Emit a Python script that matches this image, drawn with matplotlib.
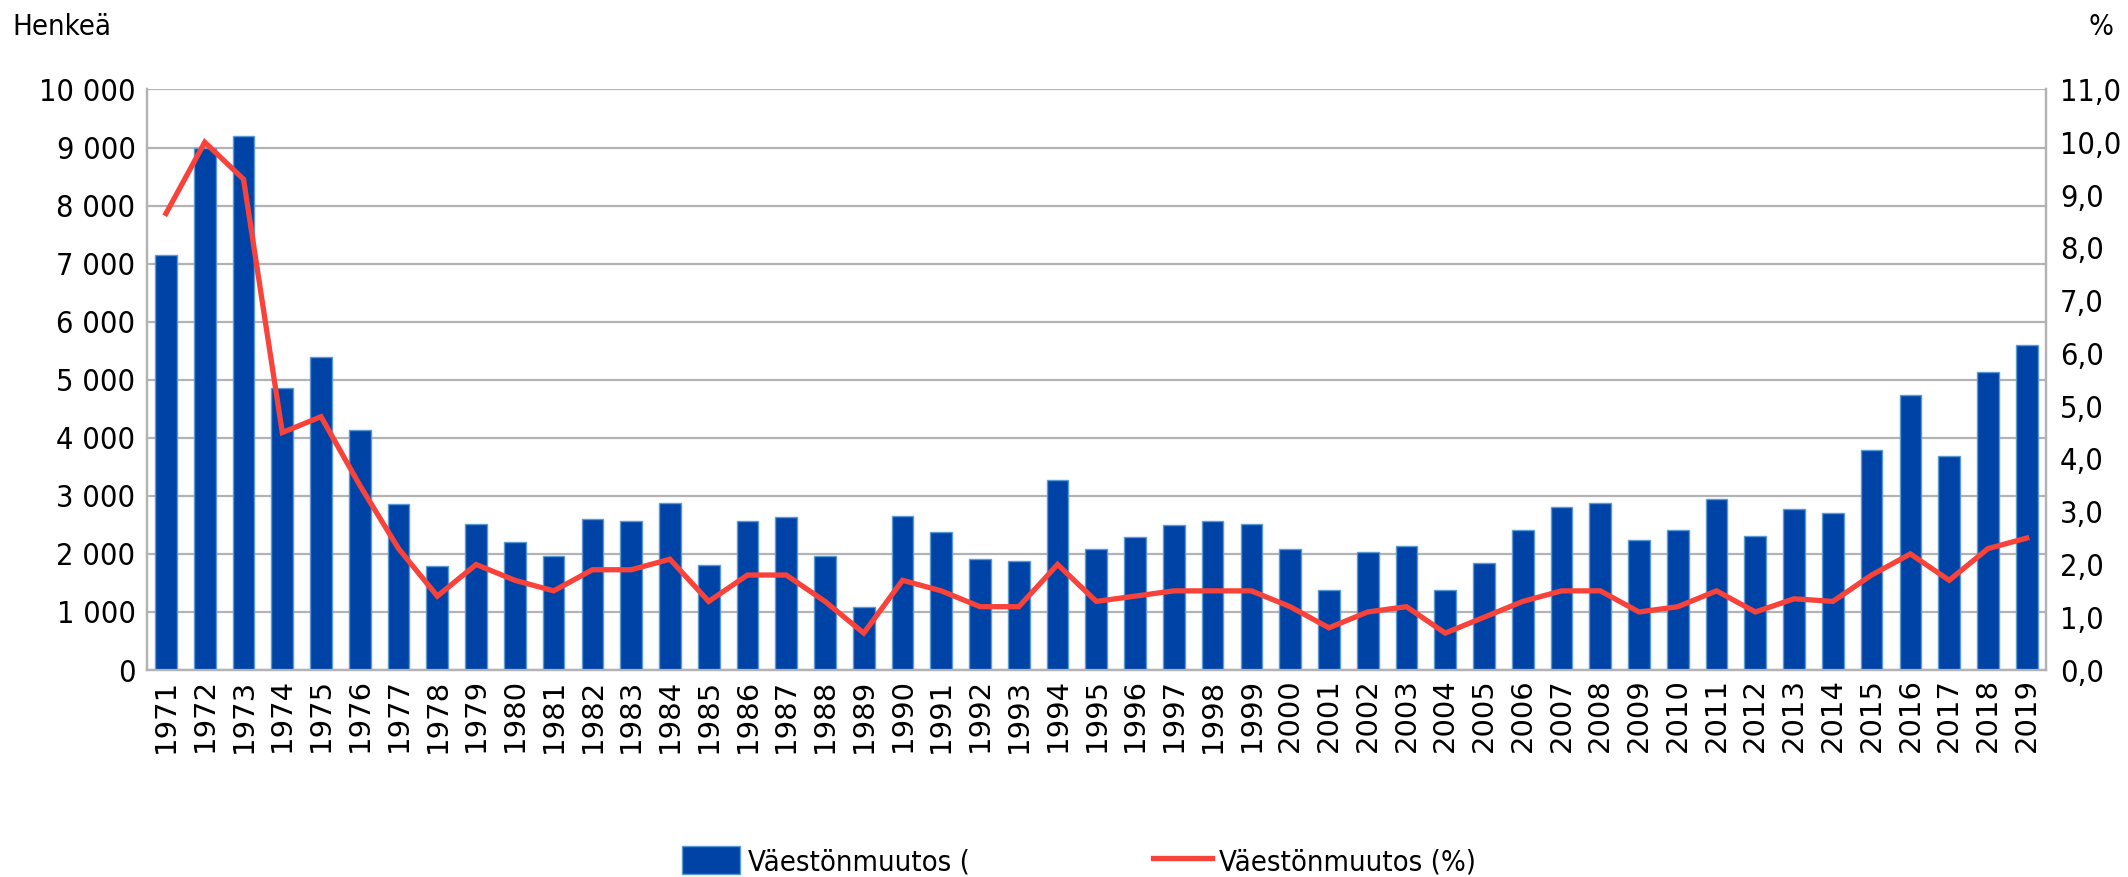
import matplotlib
matplotlib.use("Agg")
import matplotlib.pyplot as plt
from matplotlib.ticker import FuncFormatter, MultipleLocator
from matplotlib.patches import Patch
from matplotlib.lines import Line2D
from matplotlib.font_manager import FontProperties, fontManager

years = list(range(1971, 2020))
change_persons = [7140, 8990, 9190, 4860, 5400, 4130, 2860, 1800, 2520, 2210,
                  1960, 2600, 2575, 2870, 1810, 2560, 2630, 1970, 1080, 2650,
                  2370, 1910, 1870, 3265, 2090, 2290, 2505, 2560, 2520, 2080,
                  1375, 2025, 2140, 1380, 1840, 2420, 2800, 2870, 2235, 2410,
                  2940, 2300, 2775, 2700, 3790, 4730, 3685, 5125, 5600]
change_pct = [8.65, 10.0, 9.3, 4.5, 4.8, 3.5, 2.3, 1.4, 2.0, 1.7,
              1.5, 1.9, 1.9, 2.1, 1.3, 1.8, 1.8, 1.3, 0.7, 1.7,
              1.5, 1.2, 1.2, 2.0, 1.3, 1.4, 1.5, 1.5, 1.5, 1.2,
              0.8, 1.1, 1.2, 0.7, 1.0, 1.3, 1.5, 1.5, 1.1, 1.2,
              1.5, 1.1, 1.35, 1.3, 1.8, 2.2, 1.7, 2.3, 2.5]
bar_label = "Väestönmuutos ("
line_label = "Väestönmuutos (%)"
left_title = "Henkeä"
right_title = "%"

# pick a condensed font file if one is installed
cond_path = None
for f in fontManager.ttflist:
    if 'liberationsansnarrow-regular' in f.fname.lower():
        cond_path = f.fname
        break
if cond_path is None:
    for f in fontManager.ttflist:
        if 'dejavusanscondensed.ttf' in f.fname.lower():
            cond_path = f.fname
            break


def fp(size):
    if cond_path:
        return FontProperties(fname=cond_path, size=size)
    return FontProperties(family='DejaVu Sans', stretch='condensed', size=size)


fig = plt.figure(figsize=(21.28, 8.77), dpi=100)
ax = fig.add_axes([0.0689, 0.236, 0.8926, 0.662])
ax2 = ax.twinx()

x = list(range(len(years)))
ax.bar(x, change_persons, width=0.56, color='#0043A6', edgecolor='#5B9BD5',
       linewidth=1.0, zorder=3)
ax2.plot(x, change_pct, color='#F9423A', linewidth=3.8, zorder=4,
         solid_joinstyle='miter')

ax.set_xlim(-0.5, len(years) - 0.5)
ax.set_ylim(0, 10000)
ax2.set_ylim(0, 11)
ax.yaxis.set_major_locator(MultipleLocator(1000))
ax2.yaxis.set_major_locator(MultipleLocator(1))
ax.yaxis.set_major_formatter(FuncFormatter(lambda v, p: f"{int(v):,}".replace(",", " ")))
ax2.yaxis.set_major_formatter(FuncFormatter(lambda v, p: f"{v:.1f}".replace(".", ",")))

ax.set_xticks(x)
ax.set_xticklabels([str(y) for y in years], rotation=90, fontsize=21,
                   family='DejaVu Sans')
for lab in ax.get_yticklabels():
    lab.set_fontproperties(fp(22))
for lab in ax2.get_yticklabels():
    lab.set_fontproperties(fp(22))

ax.grid(axis='y', color='#B3B3B3', linewidth=1.6, zorder=0)
ax.set_axisbelow(True)
ax.tick_params(axis='x', length=0, pad=6)
ax.tick_params(axis='y', length=0, pad=8)
ax2.tick_params(axis='y', length=0, pad=10)
for a in (ax, ax2):
    a.spines['top'].set_visible(False)
    for s in ('left', 'right', 'bottom'):
        a.spines[s].set_color('#B3B3B3')
        a.spines[s].set_linewidth(1.6)

fig.text(0.006, 0.985, left_title, ha='left', va='top', fontproperties=fp(21))
fig.text(0.993, 0.985, right_title, ha='right', va='top', fontproperties=fp(21))

handles = [Patch(facecolor='#0043A6', edgecolor='#5B9BD5', linewidth=1.0),
           Line2D([0], [0], color='#F9423A', linewidth=3.8)]
fig.legend(handles, [bar_label, line_label], loc='center', ncol=2,
           bbox_to_anchor=(0.507, 0.018), frameon=False,
           prop=fp(21), columnspacing=6.3,
           handlelength=2.0, handleheight=1.1, handletextpad=0.25)

fig.savefig("out.png", dpi=100)
